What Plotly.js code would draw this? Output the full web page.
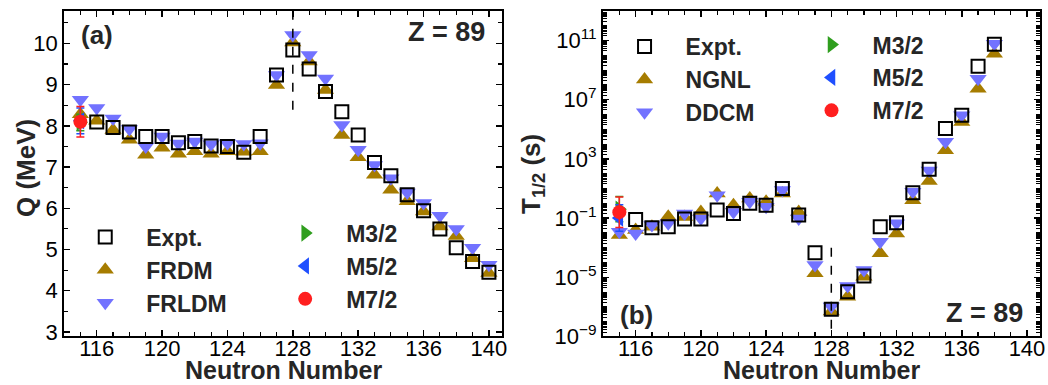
<!DOCTYPE html>
<html><head><meta charset="utf-8">
<script src="https://cdn.plot.ly/plotly-3.0.1.min.js"></script>
<style>html,body{margin:0;padding:0;background:#fff}#chart{width:1048px;height:385px}</style>
</head><body><div id="chart"></div>
<script>
// ---------- Panel (a): Q values (MeV) ----------
const nExptQ = [116,117,118,119,120,121,122,123,124,125,126,127,128,129,130,131,132,133,134,135,136,137,138,139,140];
const qExpt  = [8.09,7.96,7.85,7.74,7.74,7.59,7.62,7.51,7.50,7.36,7.74,9.23,9.84,9.38,8.83,8.34,7.78,7.11,6.79,6.33,5.94,5.50,5.04,4.71,4.45];
const nTheoryQ = [115,116,117,118,119,120,121,122,123,124,125,126,127,128,129,130,131,132,133,134,135,136,137,138,139,140];
const qFRDM  = [8.28,8.12,7.90,7.66,7.30,7.47,7.32,7.38,7.32,7.38,7.37,7.38,8.99,10.02,9.56,8.87,7.78,7.24,6.81,6.45,6.17,5.92,5.56,5.33,4.79,4.43];
const qFRLDM = [8.63,8.43,8.18,7.92,7.50,7.74,7.57,7.62,7.55,7.58,7.56,7.58,9.23,10.20,9.72,9.15,8.02,7.42,7.05,6.73,6.38,6.13,5.82,5.50,5.04,4.63];
const nM = [115];
const qM32 = [8.08], qM32err = [0.20];
const qM52 = [8.12], qM52err = [0.31];
const qM72 = [8.10], qM72err = [0.37];

// ---------- Panel (b): half-lives (s) ----------
const nExptT = [116,117,118,119,120,121,122,123,124,125,126,127,128,129,130,131,132,133,134,135,136,137,138];
const tExpt  = [0.081,0.022,0.026,0.085,0.085,0.35,0.20,0.98,0.74,10,0.16,4.6e-4,6.9e-8,1.07e-6,1.23e-5,0.026,0.048,5.1,200,1.1e5,8.7e5,1.8e9,5.4e10];
const nTheoryT = [115,116,117,118,119,120,121,122,123,124,125,126,127,128,129,130,131,132,133,134,135,136,137,138];
const tNGNL = [7.1e-3,0.0155,0.026,0.123,0.12,0.26,4.6,0.74,2.1,1.26,4.6,0.26,1.9e-5,4.8e-8,4.9e-7,1.1e-5,4.2e-4,9.1e-3,1.6,32,3.8e3,3.1e5,5.5e7,1.26e10];
const tDDCM = [0.0117,9.1e-3,0.034,0.044,0.20,0.095,3.5,0.26,1.26,0.58,7.8,0.095,6.8e-5,1.05e-7,2.6e-6,3.1e-5,2.5e-3,0.044,5.9,160,1.4e4,8.7e5,2.6e8,6.0e10];
const tM32 = [0.40], tM32errDecades = [0.85];
const tM52 = [0.10], tM52errDecades = [0.90];
const tM72 = [0.25], tM72errDecades = [1.03];

const shellN = 128;
const yTickValsB = [1e-9,1e-5,1e-1,1e3,1e7,1e11];
const yTickTextB = ['10<sup>\u22129</sup>','10<sup>\u22125</sup>','10<sup>\u22121</sup>','10<sup>3</sup>','10<sup>7</sup>','10<sup>11</sup>'];

// ---------- styles ----------
const FONT = 'Liberation Sans, Arial, Helvetica, sans-serif';
const cBrown = '#a67c00', cViolet = '#7272ff', cGreen = '#2f9e1e', cBlue = '#1f4fff', cRed = '#ff1f1f';
const txt = '#262626';

function logErr(vals, dec, up){ return vals.map((v,i)=> up ? v*(Math.pow(10,dec[i])-1) : v*(1-Math.pow(10,-dec[i]))); }

const eb = (arr,col)=>({type:'data', array:arr, visible:true, color:col, thickness:1.5, width:4});
const ebA = (up,dn,col)=>({type:'data', symmetric:false, array:up, arrayminus:dn, visible:true, color:col, thickness:1.5, width:4});

const traces = [
  // panel a
  {x:nTheoryQ, y:qFRDM, name:'FRDM', mode:'markers', xaxis:'x', yaxis:'y', legend:'legend',
   marker:{symbol:'triangle-up', size:15, color:cBrown}},
  {x:nTheoryQ, y:qFRLDM, name:'FRLDM', mode:'markers', xaxis:'x', yaxis:'y', legend:'legend',
   marker:{symbol:'triangle-down', size:15, color:cViolet}},
  {x:nExptQ, y:qExpt, name:'Expt.', mode:'markers', xaxis:'x', yaxis:'y', legend:'legend', legendrank:1,
   marker:{symbol:'square-open', size:13, color:'black', line:{width:2}}},
  {x:nM, y:qM32, name:'M3/2', mode:'markers', xaxis:'x', yaxis:'y', legend:'legend2', error_y:eb(qM32err,cGreen),
   marker:{symbol:'triangle-right', size:15, color:cGreen}},
  {x:nM, y:qM52, name:'M5/2', mode:'markers', xaxis:'x', yaxis:'y', legend:'legend2', error_y:eb(qM52err,cBlue),
   marker:{symbol:'triangle-left', size:15, color:cBlue}},
  {x:nM, y:qM72, name:'M7/2', mode:'markers', xaxis:'x', yaxis:'y', legend:'legend2', error_y:eb(qM72err,cRed),
   marker:{symbol:'circle', size:14, color:cRed}},
  // panel b
  {x:nTheoryT, y:tNGNL, name:'NGNL', mode:'markers', xaxis:'x2', yaxis:'y2', legend:'legend3',
   marker:{symbol:'triangle-up', size:15, color:cBrown}},
  {x:nTheoryT, y:tDDCM, name:'DDCM', mode:'markers', xaxis:'x2', yaxis:'y2', legend:'legend3',
   marker:{symbol:'triangle-down', size:15, color:cViolet}},
  {x:nExptT, y:tExpt, name:'Expt.', mode:'markers', xaxis:'x2', yaxis:'y2', legend:'legend3', legendrank:1,
   marker:{symbol:'square-open', size:13, color:'black', line:{width:2}}},
  {x:nM, y:tM32, name:'M3/2', mode:'markers', xaxis:'x2', yaxis:'y2', legend:'legend4',
   error_y:ebA(logErr(tM32,tM32errDecades,true),logErr(tM32,tM32errDecades,false),cGreen),
   marker:{symbol:'triangle-right', size:15, color:cGreen}},
  {x:nM, y:tM52, name:'M5/2', mode:'markers', xaxis:'x2', yaxis:'y2', legend:'legend4',
   error_y:ebA(logErr(tM52,tM52errDecades,true),logErr(tM52,tM52errDecades,false),cBlue),
   marker:{symbol:'triangle-left', size:15, color:cBlue}},
  {x:nM, y:tM72, name:'M7/2', mode:'markers', xaxis:'x2', yaxis:'y2', legend:'legend4',
   error_y:ebA(logErr(tM72,tM72errDecades,true),logErr(tM72,tM72errDecades,false),cRed),
   marker:{symbol:'circle', size:14, color:cRed}}
];

const xCommon = {range:[114,140.8], tick0:116, dtick:4, ticks:'inside', ticklen:6, tickwidth:1.5, tickcolor:'black',
  showline:true, linewidth:2, linecolor:'black', mirror:'allticks', showgrid:false, zeroline:false,
  ticklabelstandoff:-9,
  minor:{dtick:1, tick0:116, ticks:'inside', ticklen:4, tickwidth:1.2, tickcolor:'black', showgrid:false},
  tickfont:{size:22, family:FONT, color:'black'}};

const legCommon = {xanchor:'left', yanchor:'top', bgcolor:'rgba(0,0,0,0)', borderwidth:0, itemwidth:72,
  font:{size:23, family:FONT, color:txt, weight:'bold'}, traceorder:'normal'};

const titleFont = {size:25, family:FONT, color:txt, weight:'bold'};
const ytitleFont = {size:26, family:FONT, color:txt, weight:'bold'};
const tagFont = {size:26, family:FONT, color:txt, weight:'bold'};
const zFont = {size:27, family:FONT, color:txt, weight:'bold'};

const layout = {
  width:1048, height:385, margin:{l:0,r:0,t:0,b:0}, paper_bgcolor:'white', plot_bgcolor:'white',
  font:{family:FONT, color:'black'}, showlegend:true,
  xaxis:Object.assign({}, xCommon, {domain:[0.0611,0.479], anchor:'y'}),
  yaxis:{domain:[0.126,0.972], range:[2.89,10.79], dtick:1, ticks:'inside', ticklen:6, tickwidth:1.5, tickcolor:'black',
    showline:true, linewidth:2, linecolor:'black', mirror:'allticks', showgrid:false, zeroline:false, anchor:'x',
    minor:{dtick:0.5, ticks:'inside', ticklen:4, tickwidth:1.2, tickcolor:'black', showgrid:false},
    tickfont:{size:22, family:FONT, color:'black'}},
  xaxis2:Object.assign({}, xCommon, {domain:[0.5754,0.9924], anchor:'y2'}),
  yaxis2:{domain:[0.126,0.972], type:'log', range:[-9,13], tickmode:'array', tickvals:yTickValsB, ticktext:yTickTextB,
    ticks:'inside', ticklen:6, tickwidth:1.5, tickcolor:'black',
    showline:true, linewidth:2, linecolor:'black', mirror:'allticks', showgrid:false, zeroline:false, anchor:'x2',
    minor:{dtick:'D1', ticks:'inside', ticklen:4, tickwidth:1, tickcolor:'black', showgrid:false},
    tickfont:{size:22, family:FONT, color:'black'}},
  legend:Object.assign({}, legCommon, {x:0.0613, y:0.4404}),
  legend2:Object.assign({}, legCommon, {x:0.2521, y:0.4504}),
  legend3:Object.assign({}, legCommon, {x:0.5759, y:0.935}),
  legend4:Object.assign({}, legCommon, {x:0.7543, y:0.94}),
  shapes:[
    {type:'line', xref:'x', yref:'y', x0:shellN, x1:shellN, y0:8.39, y1:10.79, line:{color:'black', width:1.5, dash:'dash'}},
    {type:'line', xref:'x2', yref:'y2', x0:shellN, x1:shellN, y0:1e-3, y1:1e-9, line:{color:'black', width:1.5, dash:'dash'}}
  ],
  annotations:[
    {text:'Neutron Number', xref:'paper', yref:'paper', x:284/1048, y:1-370/385, showarrow:false, xanchor:'center', yanchor:'middle', font:titleFont},
    {text:'Neutron Number', xref:'paper', yref:'paper', x:822/1048, y:1-370/385, showarrow:false, xanchor:'center', yanchor:'middle', font:titleFont},
    {text:'Q (MeV)', xref:'paper', yref:'paper', x:26/1048, y:1-168/385, showarrow:false, xanchor:'center', yanchor:'middle', textangle:-90, font:ytitleFont},
    {text:'T<sub>1/2</sub> (s)', xref:'paper', yref:'paper', x:533/1048, y:1-174/385, showarrow:false, xanchor:'center', yanchor:'middle', textangle:-90, font:ytitleFont},
    {text:'(a)', xref:'paper', yref:'paper', x:97/1048, y:1-35/385, showarrow:false, xanchor:'center', yanchor:'middle', font:tagFont},
    {text:'Z = 89', xref:'paper', yref:'paper', x:446/1048, y:1-32/385, showarrow:false, xanchor:'center', yanchor:'middle', font:zFont},
    {text:'(b)', xref:'paper', yref:'paper', x:636/1048, y:1-315/385, showarrow:false, xanchor:'center', yanchor:'middle', font:tagFont},
    {text:'Z = 89', xref:'paper', yref:'paper', x:984/1048, y:1-313/385, showarrow:false, xanchor:'center', yanchor:'middle', font:zFont}
  ]
};

Plotly.newPlot('chart', traces, layout, {staticPlot:true, displayModeBar:false});
</script>
</body></html>
